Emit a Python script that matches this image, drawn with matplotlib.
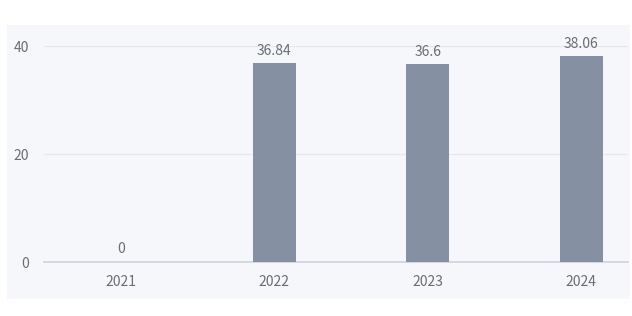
import matplotlib.pyplot as plt

years = ["2021", "2022", "2023", "2024"]
values = [0, 36.84, 36.6, 38.06]
value_labels = ["0", "36.84", "36.6", "38.06"]
y_ticks = [0, 20, 40]

plt.rcParams["font.family"] = ["Noto Sans CJK SC", "DejaVu Sans"]

W, H = 632, 316
fig = plt.figure(figsize=(W / 100, H / 100), dpi=100)
fig.patch.set_facecolor("white")

# light panel behind the chart
bg = fig.add_axes([7 / W, 1 - 299 / H, 623 / W, 274 / H], zorder=-1)
bg.set_facecolor("#f6f7fb")
bg.set_xticks([])
bg.set_yticks([])
for s in bg.spines.values():
    s.set_visible(False)

ax = fig.add_axes([44 / W, 1 - 262 / H, 584 / W, 216 / H], zorder=1)
ax.set_facecolor("none")

x = list(range(len(years)))
ax.bar(x, values, width=0.28, color="#8591a3", zorder=3)

for xi, v, lab in zip(x, values, value_labels):
    ax.annotate(lab, (xi, v), xytext=(0, 4), textcoords="offset points",
                ha="center", va="bottom", fontsize=10, color="#6a6d75",
                annotation_clip=False)

ax.set_ylim(0, 40)
ax.set_xlim(-0.5, 3.305)
ax.set_yticks(y_ticks)
ax.set_xticks(x)
ax.set_xticklabels(years)
ax.tick_params(axis="both", length=0, labelsize=10, labelcolor="#6a6d75")
ax.tick_params(axis="y", pad=11)
ax.tick_params(axis="x", pad=9)

for s in ["top", "right", "left"]:
    ax.spines[s].set_visible(False)
ax.spines["bottom"].set_color("#cdd3e0")
ax.spines["bottom"].set_linewidth(1.2)

ax.grid(axis="y", color="#e6e8ee", linewidth=1, zorder=0)
ax.set_axisbelow(True)

fig.savefig("out.png", dpi=100)
